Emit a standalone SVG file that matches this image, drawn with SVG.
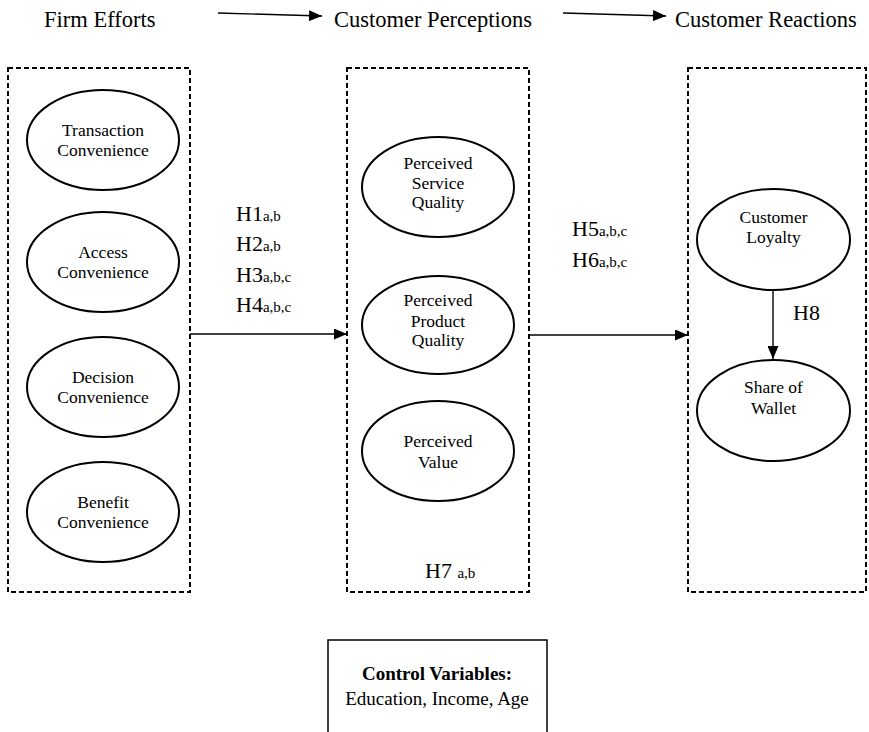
<svg xmlns="http://www.w3.org/2000/svg" width="869" height="732" viewBox="0 0 869 732">
<style>
text{font-family:"Liberation Serif","Times New Roman",serif;fill:#000}
.hd{font-size:22.5px}
.nt{font-size:17.5px;text-anchor:middle}
.hy{font-size:22px}
.sb{font-size:15px}
.cv{font-size:19px;text-anchor:middle}
.ell{fill:#fff;stroke:#000;stroke-width:2}
.box{fill:none;stroke:#000;stroke-width:2;stroke-dasharray:5,3}
.con{fill:none;stroke:#000;stroke-width:1.4}
</style>
<defs>
<marker id="ah" viewBox="0 0 13 11" refX="13" refY="5.5" markerWidth="13" markerHeight="11" markerUnits="userSpaceOnUse" orient="auto">
<path d="M0,0 L13,5.5 L0,11 z" fill="#000"/>
</marker>
</defs>
<rect width="869" height="732" fill="#fff"/>

<g id="header">
<text class="hd" x="44" y="27">Firm Efforts</text>
<text class="hd" x="334" y="27">Customer Perceptions</text>
<text class="hd" x="675" y="27">Customer Reactions</text>
</g>

<g id="boxes">
<rect id="box-firm" class="box" x="8" y="68" width="182" height="524"/>
<rect id="box-perceptions" class="box" x="347" y="68" width="182" height="524"/>
<rect id="box-reactions" class="box" x="688" y="68" width="178" height="524"/>
</g>

<g id="connectors">
<line class="con" x1="218" y1="13" x2="322" y2="16" marker-end="url(#ah)"/>
<line class="con" x1="563" y1="13" x2="666" y2="16" marker-end="url(#ah)"/>
<line class="con" x1="190" y1="334" x2="347" y2="334" marker-end="url(#ah)"/>
<line class="con" x1="529" y1="335" x2="688" y2="335" marker-end="url(#ah)"/>
<line class="con" x1="773" y1="290" x2="773" y2="359" marker-end="url(#ah)"/>
</g>

<g id="transaction-convenience">
<ellipse class="ell" cx="103" cy="140" rx="76" ry="50"/>
<text class="nt" x="103" y="136">Transaction</text>
<text class="nt" x="103" y="156">Convenience</text>
</g>
<g id="access-convenience">
<ellipse class="ell" cx="103" cy="262" rx="76" ry="50"/>
<text class="nt" x="103" y="258">Access</text>
<text class="nt" x="103" y="278">Convenience</text>
</g>
<g id="decision-convenience">
<ellipse class="ell" cx="103" cy="387" rx="76" ry="50"/>
<text class="nt" x="103" y="383">Decision</text>
<text class="nt" x="103" y="403">Convenience</text>
</g>
<g id="benefit-convenience">
<ellipse class="ell" cx="103" cy="512" rx="76" ry="50"/>
<text class="nt" x="103" y="508">Benefit</text>
<text class="nt" x="103" y="528">Convenience</text>
</g>

<g id="perceived-service-quality">
<ellipse class="ell" cx="438" cy="187" rx="76" ry="50"/>
<text class="nt" x="438" y="169">Perceived</text>
<text class="nt" x="438" y="189">Service</text>
<text class="nt" x="438" y="208">Quality</text>
</g>
<g id="perceived-product-quality">
<ellipse class="ell" cx="438" cy="325" rx="76" ry="49"/>
<text class="nt" x="438" y="306">Perceived</text>
<text class="nt" x="438" y="327">Product</text>
<text class="nt" x="438" y="346">Quality</text>
</g>
<g id="perceived-value">
<ellipse class="ell" cx="438" cy="451" rx="76" ry="50"/>
<text class="nt" x="438" y="447">Perceived</text>
<text class="nt" x="438" y="468">Value</text>
</g>

<g id="customer-loyalty">
<ellipse class="ell" cx="773.5" cy="239.5" rx="76.5" ry="50.5"/>
<text class="nt" x="773.5" y="223">Customer</text>
<text class="nt" x="773.5" y="243">Loyalty</text>
</g>
<g id="share-of-wallet">
<ellipse class="ell" cx="773.5" cy="410.5" rx="76.5" ry="50.5"/>
<text class="nt" x="773.5" y="393">Share of</text>
<text class="nt" x="773.5" y="414">Wallet</text>
</g>

<g id="hypotheses">
<text class="hy" x="236" y="221">H1<tspan class="sb">a,b</tspan></text>
<text class="hy" x="236" y="251">H2<tspan class="sb">a,b</tspan></text>
<text class="hy" x="236" y="282">H3<tspan class="sb">a,b,c</tspan></text>
<text class="hy" x="236" y="312">H4<tspan class="sb">a,b,c</tspan></text>
<text class="hy" x="572" y="236">H5<tspan class="sb">a,b,c</tspan></text>
<text class="hy" x="572" y="267">H6<tspan class="sb">a,b,c</tspan></text>
<text class="hy" x="425" y="578">H7 <tspan class="sb">a,b</tspan></text>
<text class="hy" x="793" y="320">H8</text>
</g>

<g id="control-variables">
<rect x="328" y="640" width="219" height="110" fill="#fff" stroke="#000" stroke-width="1.5"/>
<text class="cv" x="437" y="680" font-weight="bold">Control Variables:</text>
<text class="cv" x="437" y="705">Education, Income, Age</text>
</g>
</svg>
